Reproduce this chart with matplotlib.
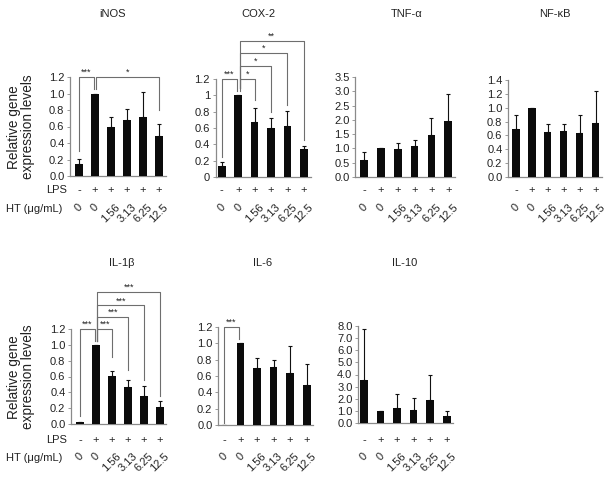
import numpy as np
import matplotlib
matplotlib.use('Agg')
import matplotlib.pyplot as plt
from matplotlib import transforms

plt.rcParams['font.family'] = ['Liberation Sans', 'DejaVu Sans']

W, H, DPI = 606, 487, 100

# ---------------- data ----------------
doses = ['0', '0', '1.56', '3.13', '6.25', '12.5']
lps = ['-', '+', '+', '+', '+', '+']

inos_mean = [0.14, 1.0, 0.59, 0.68, 0.72, 0.49]
inos_err = [0.07, 0.0, 0.12, 0.13, 0.30, 0.14]

cox2_mean = [0.14, 1.0, 0.67, 0.60, 0.62, 0.34]
cox2_err = [0.04, 0.0, 0.17, 0.12, 0.19, 0.04]

tnf_mean = [0.58, 1.0, 0.97, 1.07, 1.47, 1.97]
tnf_err = [0.30, 0.0, 0.22, 0.23, 0.58, 0.92]

nfkb_mean = [0.70, 1.0, 0.65, 0.67, 0.64, 0.78]
nfkb_err = [0.20, 0.0, 0.12, 0.09, 0.25, 0.46]

il1b_mean = [0.02, 1.0, 0.61, 0.47, 0.36, 0.22]
il1b_err = [0.01, 0.0, 0.06, 0.08, 0.12, 0.07]

il6_mean = [0.005, 1.0, 0.70, 0.71, 0.64, 0.49]
il6_err = [0.0, 0.0, 0.12, 0.08, 0.33, 0.26]

il10_mean = [3.55, 1.0, 1.20, 1.05, 1.90, 0.55]
il10_err = [4.20, 0.0, 1.20, 1.05, 2.10, 0.40]

# significance brackets: (bar i, bar j, height, left drop end, right drop end, label)
inos_sig = [(0, 1, 1.2, 0.30, 1.05, '***'), (1, 5, 1.2, 1.05, 0.80, '*')]
cox2_sig = [(0, 1, 1.2, 0.25, 1.05, '***'), (1, 2, 1.2, 1.05, 0.94, '*'),
            (1, 3, 1.36, 1.09, 0.80, '*'), (1, 4, 1.52, 1.09, 0.88, '*'),
            (1, 5, 1.67, 1.09, 0.45, '**')]
il1b_sig = [(0, 1, 1.2, 0.10, 1.05, '***'), (1, 2, 1.2, 1.05, 0.85, '***'),
            (1, 3, 1.35, 1.05, 0.68, '***'), (1, 4, 1.50, 1.05, 0.55, '***'),
            (1, 5, 1.67, 1.05, 0.35, '***')]
il6_sig = [(0, 1, 1.2, 0.03, 1.05, '***')]

panels = [
    dict(title='iNOS', mean=inos_mean, err=inos_err, ymax=1.2, step=0.2, fmt='{:.1f}',
         box=(70, 165.5, 77, 176), xlim=(-0.56, 5.4), sig=inos_sig, row=0, tx=113),
    dict(title='COX-2', mean=cox2_mean, err=cox2_err, ymax=1.2, step=0.2, fmt='{:g}',
         box=(215.5, 310.5, 79, 177), xlim=(-0.38, 5.4), sig=cox2_sig, row=0, tx=258),
    dict(title='TNF-\u03b1', mean=tnf_mean, err=tnf_err, ymax=3.5, step=0.5, fmt='{:.1f}',
         box=(355, 455, 77, 177), xlim=(-0.54, 5.4), sig=[], row=0, tx=407),
    dict(title='NF-\u03baB', mean=nfkb_mean, err=nfkb_err, ymax=1.4, step=0.2, fmt='{:.1f}',
         box=(508, 602, 80, 177), xlim=(-0.5, 5.4), sig=[], row=0, tx=555),
    dict(title='IL-1\u03b2', mean=il1b_mean, err=il1b_err, ymax=1.2, step=0.2, fmt='{:.1f}',
         box=(71, 166, 329, 424), xlim=(-0.56, 5.38), sig=il1b_sig, row=1, tx=122),
    dict(title='IL-6', mean=il6_mean, err=il6_err, ymax=1.2, step=0.2, fmt='{:.1f}',
         box=(218, 313, 327, 425), xlim=(-0.36, 5.38), sig=il6_sig, row=1, tx=263),
    dict(title='IL-10', mean=il10_mean, err=il10_err, ymax=8.0, step=1.0, fmt='{:.1f}',
         box=(358, 453, 326, 423), xlim=(-0.36, 5.38), sig=[], row=1, tx=405),
]

row_title_y = [14, 263]
row_lps_y = [190, 440]
row_dose_y = [202, 451]
row_ylabel_y = [127, 377]

fig = plt.figure(figsize=(W / DPI, H / DPI), dpi=DPI)
fig.patch.set_facecolor('white')

GRAY = '#8a8a8a'
BR = '#6e6e6e'
FS = 8

for p in panels:
    l, r, t, b = p['box']
    ax = fig.add_axes([l / W, 1 - b / H, (r - l) / W, (b - t) / H])
    x = np.arange(len(p['mean']))
    ax.bar(x, p['mean'], width=0.46, color='#0b0b0b', zorder=3)
    ax.errorbar(x, p['mean'], yerr=[np.zeros(len(x)), p['err']], fmt='none',
                ecolor='#111111', elinewidth=0.8, capsize=1.6, capthick=0.8, zorder=2)
    ax.set_xlim(*p['xlim'])
    ax.set_ylim(0, p['ymax'])
    ticks = np.arange(0, p['ymax'] + 1e-9, p['step'])
    ax.set_yticks(ticks)
    ax.set_yticklabels([p['fmt'].format(v) for v in ticks], fontsize=FS, color='#222222')
    ax.set_xticks([])
    ax.tick_params(axis='y', length=2, width=0.6, color=GRAY, pad=2)
    for s in ['top', 'right']:
        ax.spines[s].set_visible(False)
    for s in ['left', 'bottom']:
        ax.spines[s].set_color(GRAY)
        ax.spines[s].set_linewidth(0.9)
    ax.patch.set_alpha(0)

    for (i, j, lev, di, dj, lab) in p['sig']:
        xl = i + (0.09 if i == 1 else 0)
        xr = j - (0.09 if j == 1 else 0)
        ax.plot([xl, xl, xr, xr], [di, lev, lev, dj], color=BR, lw=0.8,
                clip_on=False, zorder=4)
        ax.text((xl + xr) / 2, lev, lab, ha='center', va='bottom', fontsize=6.5,
                color='#222222', clip_on=False)

    row = p['row']
    trans = transforms.blended_transform_factory(ax.transData, fig.transFigure)
    for i in x:
        ax.text(i, 1 - row_lps_y[row] / H, lps[i], transform=trans, ha='center',
                va='center', fontsize=FS, color='#222222')
        ax.text(i, 1 - row_dose_y[row] / H, doses[i], transform=trans, ha='center',
                va='top', rotation=45, fontsize=FS, color='#222222')
    fig.text(p['tx'] / W, 1 - row_title_y[row] / H, p['title'], ha='center', va='center',
             fontsize=FS, color='#222222')

for row in range(2):
    fig.text(67 / W, 1 - row_lps_y[row] / H, 'LPS', ha='right', va='center', fontsize=FS,
             color='#222222')
    fig.text(62 / W, 1 - (row_dose_y[row] + 7) / H, 'HT (\u03bcg/mL)', ha='right',
             va='center', fontsize=FS, color='#222222')
    fig.text(21 / W, 1 - row_ylabel_y[row] / H, 'Relative gene\nexpression levels',
             rotation=90, ha='center', va='center', fontsize=9.8, color='#222222',
             linespacing=1.0)

fig.savefig('out.png', dpi=DPI, facecolor='white')
